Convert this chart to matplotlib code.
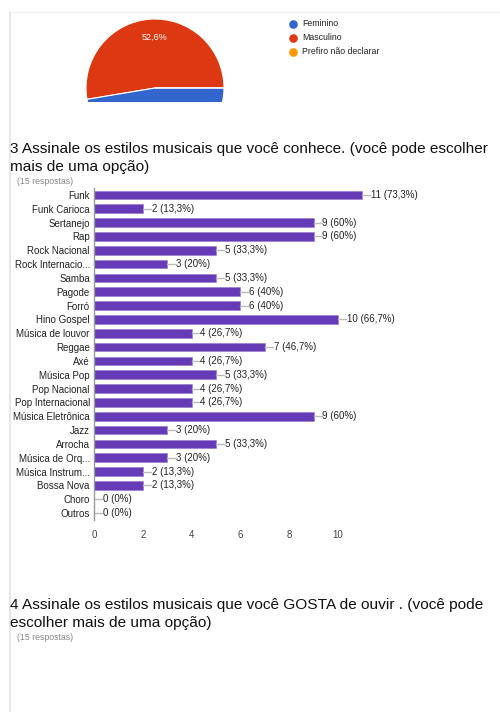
import matplotlib
matplotlib.use("Agg")
import matplotlib.pyplot as plt
from matplotlib.lines import Line2D

plt.rcParams['font.family'] = ['Liberation Sans', 'DejaVu Sans']

# ---- data ----
gender_labels = ["Feminino", "Masculino", "Prefiro não declarar"]
gender_values = [9, 10, 0]
gender_colors = ["#3366CC", "#DC3912", "#FF9900"]

categories = ["Funk", "Funk Carioca", "Sertanejo", "Rap", "Rock Nacional",
              "Rock Internacio...", "Samba", "Pagode", "Forró", "Hino Gospel",
              "Música de louvor", "Reggae", "Axé", "Música Pop", "Pop Nacional",
              "Pop Internacional", "Música Eletrônica", "Jazz", "Arrocha",
              "Música de Orq...", "Música Instrum...", "Bossa Nova", "Choro", "Outros"]
counts = [11, 2, 9, 9, 5, 3, 5, 6, 6, 10, 4, 7, 4, 5, 4, 4, 9, 3, 5, 3, 2, 2, 0, 0]
n_responses = 15
xticks = [0, 2, 4, 6, 8, 10]

title3 = "3 Assinale os estilos musicais que você conhece. (você pode escolher\nmais de uma opção)"
title4 = "4 Assinale os estilos musicais que você GOSTA de ouvir . (você pode\nescolher mais de uma opção)"
resp_text = "(15 respostas)"

W, H = 500, 712
fig = plt.figure(figsize=(W / 100, H / 100), dpi=100)

def fy(y):
    return 1 - y / H

def rect(l, t, r, b):
    return [l / W, 1 - b / H, (r - l) / W, (b - t) / H]

# frame lines
fig.add_artist(Line2D([10 / W, 10 / W], [fy(12), 0], color="#e3e3e3", lw=1.2))
fig.add_artist(Line2D([10 / W, 1], [fy(12), fy(12)], color="#f0f0f0", lw=0.8))

# ---- pie (cropped) ----
cx, cy, r = 155, 88, 69
axp = fig.add_axes(rect(cx - r, cy - r, cx + r, 102))
order = [1, 0, 2]
wedges, _ = axp.pie([gender_values[i] for i in order],
                    colors=[gender_colors[i] for i in order],
                    startangle=0, counterclock=True,
                    wedgeprops=dict(edgecolor="white", linewidth=0.8))
axp.set_xlim(-1, 1)
axp.set_ylim(-(102 - cy) / r, 1)
axp.set_aspect('auto')
axp.axis('off')
for w in wedges:
    w.set_clip_on(True)
    w.set_clip_box(axp.bbox)
pct = gender_values[1] / sum(gender_values) * 100
axp.text(0, 0.74, f"{pct:.1f}%".replace('.', ','), color="white", fontsize=6.5,
         ha="center", va="center")

# legend
for i, (lab, col) in enumerate(zip(gender_labels, gender_colors)):
    y = 24 + 14 * i
    fig.add_artist(Line2D([293 / W], [fy(y)], marker="o", markersize=5.2,
                          color=col, linestyle="none"))
    fig.text(302 / W, fy(y), lab, fontsize=6.3, color="#222222", va="center", ha="left")

# ---- titles ----
fig.text(10 / W, fy(158), title3, fontsize=11.1, color="#111111", va="center",
         ha="left", linespacing=1.38)
fig.text(17 / W, fy(182), resp_text, fontsize=6.3, color="#888888", va="center", ha="left")
fig.text(10 / W, fy(614), title4, fontsize=11.1, color="#111111", va="center",
         ha="left", linespacing=1.38)
fig.text(17 / W, fy(638), resp_text, fontsize=6.3, color="#888888", va="center", ha="left")

# ---- bar chart ----
axb = fig.add_axes(rect(94, 188, 500, 520))
ypos = list(range(len(categories)))
axb.barh(ypos, counts, height=0.63, color="#673AB7", edgecolor="#9575CD", linewidth=0.4)
axb.set_ylim(len(categories) - 0.5, -0.5)
axb.set_xlim(0, (500 - 94) / 24.4)
axb.set_yticks(ypos)
axb.set_yticklabels(categories, fontsize=7, color="#222222")
axb.set_xticks(xticks)
axb.set_xticklabels([str(t) for t in xticks], fontsize=7, color="#444444")
axb.tick_params(axis='y', length=0, pad=3)
axb.tick_params(axis='x', length=0, pad=7)
for s in ["top", "right", "bottom"]:
    axb.spines[s].set_visible(False)
axb.spines["left"].set_color("#999999")
axb.spines["left"].set_linewidth(1)

def fmt_pct(c):
    p = round(c / n_responses * 100, 1)
    s = f"{p:.1f}".replace('.', ',')
    if s.endswith(",0"):
        s = s[:-2]
    return s

conn = 8 / 24.4
for yv, c in zip(ypos, counts):
    axb.plot([c, c + conn], [yv, yv], color="#bbbbbb", lw=1)
    axb.text(c + conn + 0.03, yv, f"{c} ({fmt_pct(c)}%)", fontsize=7,
             color="#222222", va="center", ha="left")

fig.savefig("out.png", dpi=100)
